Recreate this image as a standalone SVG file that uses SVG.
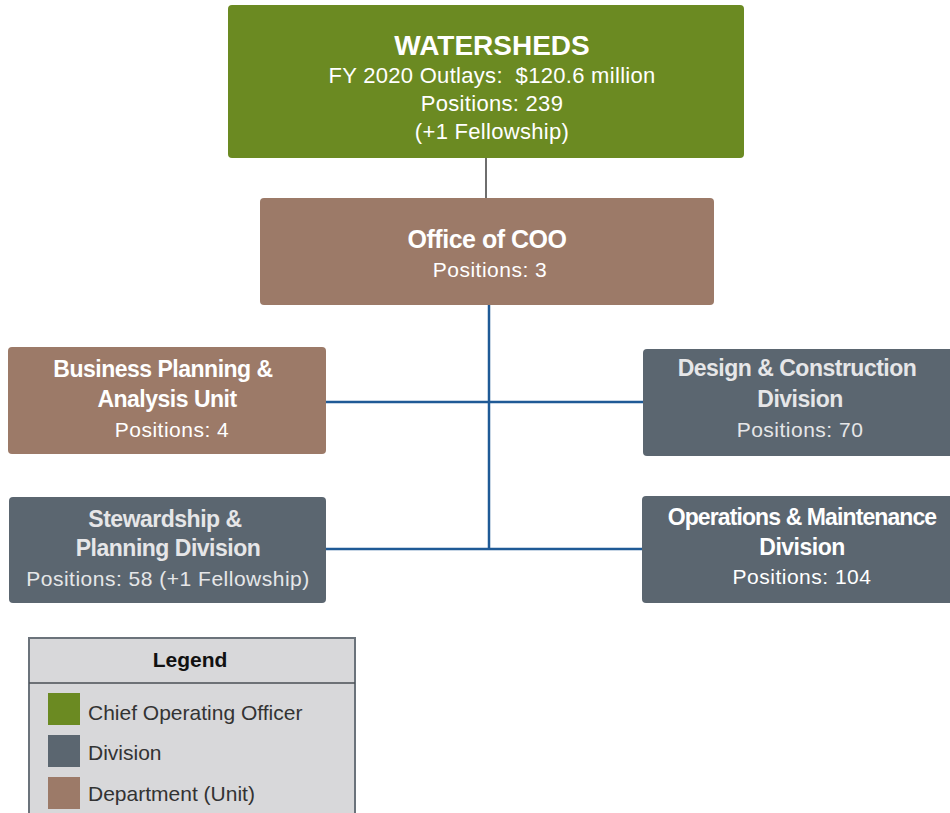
<svg xmlns="http://www.w3.org/2000/svg" width="950" height="813" viewBox="0 0 950 813">
<style>
.green{fill:#6b8a22}
.brown{fill:#9c7a68}
.slate{fill:#5b6670}
text{font-family:"Liberation Sans",Arial,sans-serif;text-anchor:middle;fill:#ffffff;white-space:pre}
.t{font-weight:bold;font-size:23px;letter-spacing:-0.5px}
.s{font-size:21px;letter-spacing:0.5px}
.ls{fill:#e6e6e8}
.conn{stroke:#1f5a96;stroke-width:2.5;fill:none}
.leg{font-size:21px;fill:#333;text-anchor:start}
</style>
<g id="connectors">
<line x1="486" y1="158" x2="486" y2="198" stroke="#6e6e6e" stroke-width="2"/>
<line class="conn" x1="489" y1="305" x2="489" y2="550"/>
<line class="conn" x1="326" y1="402" x2="643" y2="402"/>
<line class="conn" x1="326" y1="549" x2="643" y2="549"/>
</g>
<g id="watersheds">
<rect class="green" x="228" y="5" width="516" height="153" rx="4"/>
<text x="492" y="55" style="font-weight:bold;font-size:28px">WATERSHEDS</text>
<text class="s" x="492" y="83" xml:space="preserve" style="font-size:22px;letter-spacing:0.3px">FY 2020 Outlays:  $120.6 million</text>
<text class="s" x="492" y="111" style="font-size:22px;letter-spacing:0.3px">Positions: 239</text>
<text class="s" x="492" y="139" style="font-size:22px;letter-spacing:0.3px">(+1 Fellowship)</text>
</g>
<g id="coo">
<rect class="brown" x="260" y="198" width="454" height="107" rx="4"/>
<text class="t" x="487" y="248" style="font-size:25px">Office of COO</text>
<text class="s" x="490" y="277">Positions: 3</text>
</g>
<g id="business">
<rect class="brown" x="8" y="347" width="318" height="107" rx="4"/>
<text class="t" x="163" y="377">Business Planning &amp;</text>
<text class="t" x="167" y="407">Analysis Unit</text>
<text class="s" x="172" y="437">Positions: 4</text>
</g>
<g id="stewardship">
<rect class="slate" x="9" y="497" width="317" height="106" rx="4"/>
<text class="t ls" x="165" y="527">Stewardship &amp;</text>
<text class="t ls" x="168" y="556">Planning Division</text>
<text class="s ls" x="168" y="586">Positions: 58 (+1 Fellowship)</text>
</g>
<g id="design">
<rect class="slate" x="643" y="349" width="312" height="107" rx="4"/>
<text class="t ls" x="797" y="376">Design &amp; Construction</text>
<text class="t ls" x="800" y="407">Division</text>
<text class="s ls" x="800" y="437">Positions: 70</text>
</g>
<g id="operations">
<rect class="slate" x="642" y="496" width="313" height="107" rx="4"/>
<text class="t" x="802" y="525" style="letter-spacing:-0.9px">Operations &amp; Maintenance</text>
<text class="t" x="802" y="555">Division</text>
<text class="s" x="802" y="584">Positions: 104</text>
</g>
<g id="legend">
<rect x="29" y="638" width="326" height="185" fill="#d8d8da" stroke="#6b737b" stroke-width="2"/>
<line x1="29" y1="683" x2="355" y2="683" stroke="#4a4f55" stroke-width="1.5"/>
<text x="190" y="667" style="font-weight:bold;font-size:21px;fill:#111">Legend</text>
<rect class="green" x="48" y="693" width="32" height="32"/>
<rect class="slate" x="48" y="735" width="32" height="32"/>
<rect class="brown" x="48" y="777" width="32" height="32"/>
<text class="leg" x="88" y="720">Chief Operating Officer</text>
<text class="leg" x="88" y="760">Division</text>
<text class="leg" x="88" y="801">Department (Unit)</text>
</g>
</svg>
